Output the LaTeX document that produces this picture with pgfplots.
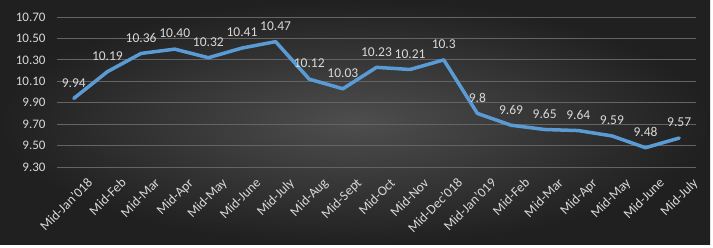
\documentclass[border=0pt]{standalone}
\usepackage{pgfplots}
\usepackage{pgfplotstable}
\pgfplotsset{compat=1.18}
\usepackage{fontspec}
\setmainfont{Carlito}
\definecolor{lineblue}{RGB}{91,155,213}
\definecolor{ticktext}{RGB}{217,217,217}
\definecolor{gridc}{RGB}{100,100,100}
\pgfplotstableread{
x y lab
0 9.94 9.94
1 10.19 10.19
2 10.36 10.36
3 10.40 10.40
4 10.32 10.32
5 10.41 10.41
6 10.47 10.47
7 10.12 10.12
8 10.03 10.03
9 10.23 10.23
10 10.21 10.21
11 10.30 10.3
12 9.80 9.8
13 9.69 9.69
14 9.65 9.65
15 9.64 9.64
16 9.59 9.59
17 9.48 9.48
18 9.57 9.57
}\datatab
\begin{document}
\begin{tikzpicture}[x=1pt,y=1pt]
\fill[white] (0,0) rectangle (713,248);
\shade[inner color={rgb,255:red,78;green,78;blue,78}, outer color={rgb,255:red,32;green,32;blue,32}] (0,3) rectangle (710,248);
\begin{axis}[
  at={(57pt,81pt)}, anchor=south west,
  scale only axis, width=639pt, height=150pt,
  xmin=-0.5, xmax=18.5, ymin=9.3, ymax=10.7,
  axis line style={draw=none},
  ymajorgrids, grid style={gridc, line width=0.8pt},
  ytick={9.3,9.5,...,10.71},
  yticklabel style={/pgf/number format/fixed, /pgf/number format/fixed zerofill, /pgf/number format/precision=2},
  /pgf/number format/assume math mode=true,
  xtick=data,
  xticklabels={Mid-Jan'018,Mid-Feb,Mid-Mar,Mid-Apr,Mid-May,Mid-June,Mid-July,Mid-Aug,Mid-Sept,Mid-Oct,Mid-Nov,Mid-Dec'018,Mid-Jan'019,Mid-Feb,Mid-Mar,Mid-Apr,Mid-May,Mid-June,Mid-July},
  x tick label style={rotate=45, anchor=north east, inner sep=0pt, xshift=2pt, yshift=-16pt, font=\fontsize{13.5}{15}\selectfont, text=ticktext},
  y tick label style={font=\fontsize{13}{15}\selectfont, text=ticktext, xshift=-8pt},
  major tick length=0pt,
  clip=false,
  nodes near coords,
  point meta=explicit symbolic,
  every node near coord/.append style={font=\fontsize{13.5}{15}\selectfont, text=ticktext, anchor=south, yshift=6pt},
]
\addplot[lineblue, line width=3.5pt, line join=round, line cap=round] table[x=x, y=y, meta=lab] {\datatab};
\end{axis}
\pgfresetboundingbox
\path (0,0) rectangle (713,248);
\end{tikzpicture}
\end{document}
